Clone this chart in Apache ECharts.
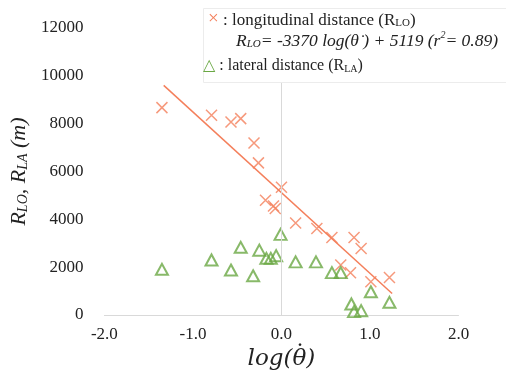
<!DOCTYPE html>
<html>
<head>
<meta charset="utf-8">
<script src="https://cdn.jsdelivr.net/npm/echarts@6/dist/echarts.min.js"></script>
<style>
  html, body { margin: 0; padding: 0; background: #fff; }
  #chart { width: 506px; height: 379px; }
</style>
</head>
<body>
<div id="chart"></div>
<script>
// log(theta dot) vs longitudinal distance R_LO
const loX = [-1.35, -0.79, -0.57, -0.46, -0.31, -0.26, -0.18, -0.09, -0.07, 0.00, 0.16, 0.40, 0.57, 0.82, 0.90, 0.67, 0.78, 1.01, 1.22];
const loY = [8670, 8350, 8070, 8210, 7190, 6360, 4800, 4560, 4450, 5340, 3850, 3620, 3240, 3240, 2780, 2090, 1770, 1390, 1570];

// log(theta dot) vs lateral distance R_LA
const laX = [-1.35, -0.79, -0.57, -0.46, -0.32, -0.25, -0.17, -0.12, -0.06, -0.01, 0.16, 0.39, 0.57, 0.67, 1.01, 1.22, 0.79, 0.82, 0.90];
const laY = [1910, 2300, 1880, 2830, 1640, 2710, 2370, 2370, 2480, 3370, 2220, 2220, 1770, 1770, 970, 530, 460, 140, 180];

// fitted line end points, as drawn
const fitX = [-1.33, 1.25];
const fitY = [9600, 900];

const xTicks = [-2, -1, 0, 1, 2];
const yTicks = [0, 2000, 4000, 6000, 8000, 10000, 12000];

const colors = {
  orange: "#f47f5b",
  green: "#6aa844",
  ink: "#222222",
  axis: "#d9d9d9"
};

const serif = "'Liberation Serif', 'DejaVu Serif', serif";
const mathSerif = "'DejaVu Serif', serif";
const crossPath = "path://M0,0 L10,10 M10,0 L0,10";

const pairs = (xs, ys) => xs.map((x, i) => [x, ys[i]]);

const chart = echarts.init(document.getElementById("chart"), null, { renderer: "canvas" });

chart.setOption({
  animation: false,
  grid: { left: 103.5, right: 47.5, top: 28, bottom: 64 },
  xAxis: {
    type: "value",
    min: xTicks[0],
    max: xTicks[xTicks.length - 1],
    interval: 1,
    axisLine: { onZero: false, lineStyle: { color: colors.axis, width: 1 } },
    axisTick: { show: false },
    splitLine: { show: false },
    axisLabel: { color: colors.ink, fontFamily: serif, fontSize: 17, margin: 11, formatter: v => v.toFixed(1) },
    name: "log(θ)",
    nameLocation: "middle",
    nameGap: 31,
    nameTextStyle: { color: colors.ink, fontFamily: mathSerif, fontStyle: "italic", fontSize: 23 }
  },
  yAxis: {
    type: "value",
    min: yTicks[0],
    max: yTicks[yTicks.length - 1],
    interval: 2000,
    axisLine: { show: false },
    axisTick: { show: false },
    splitLine: { show: false },
    axisLabel: { color: colors.ink, fontFamily: serif, fontSize: 17, margin: 21, formatter: v => String(v) },
    name: "{r|R}{s|LO}{r|, R}{s|LA}{r| (m)}",
    nameLocation: "middle",
    nameRotate: 90,
    nameGap: 62,
    nameTextStyle: {
      rich: {
        r: { fontFamily: serif, fontStyle: "italic", fontSize: 22, color: colors.ink, lineHeight: 24, verticalAlign: "bottom" },
        s: { fontFamily: serif, fontStyle: "italic", fontSize: 14, color: colors.ink, lineHeight: 12, verticalAlign: "bottom" }
      }
    }
  },
  series: [
    {
      name: "fit",
      type: "line",
      data: pairs(fitX, fitY),
      showSymbol: false,
      symbol: "none",
      lineStyle: { color: colors.orange, width: 1.5 },
      silent: true,
      z: 1,
      markLine: {
        silent: true,
        symbol: "none",
        label: { show: false },
        lineStyle: { color: colors.axis, type: "solid", width: 1 },
        data: [{ xAxis: 0 }]
      }
    },
    {
      name: "longitudinal distance",
      type: "scatter",
      data: pairs(loX, loY),
      symbol: crossPath,
      symbolSize: 11,
      itemStyle: { color: "rgba(0,0,0,0)", borderColor: colors.orange, borderWidth: 1.5 },
      z: 3
    },
    {
      name: "lateral distance",
      type: "scatter",
      data: pairs(laX, laY),
      symbol: "triangle",
      symbolSize: [12, 11],
      itemStyle: { color: "rgba(0,0,0,0)", borderColor: colors.green, borderWidth: 2 },
      z: 3
    }
  ],
  graphic: [
    // dot over the theta in the x axis name
    {
      type: "text",
      left: 294,
      top: 344,
      z: 11,
      style: { text: "˙", fontSize: 24, fontFamily: mathSerif, fill: colors.ink }
    },
    {
      type: "rect",
      left: 203,
      top: 8,
      shape: { width: 310, height: 74 },
      style: { fill: "#ffffff", stroke: "#ececec", lineWidth: 1 },
      z: 10
    },
    {
      type: "text",
      left: 208,
      top: 10,
      z: 11,
      style: {
        text: "{x|×}{t| : longitudinal distance (R}{s|LO}{t|)}",
        rich: {
          x: { fontSize: 19, fill: colors.orange, fontFamily: serif, lineHeight: 19, verticalAlign: "bottom" },
          t: { fontSize: 17, fill: colors.ink, fontFamily: serif, lineHeight: 19, verticalAlign: "bottom" },
          s: { fontSize: 11, fill: colors.ink, fontFamily: serif, lineHeight: 10, verticalAlign: "bottom" }
        }
      }
    },
    {
      type: "text",
      left: 236,
      top: 30,
      z: 11,
      style: {
        text: "{t|R}{s|LO}{t|= -3370 log(θ̇ ) + 5119 (r}{p|2}{t|= 0.89)}",
        rich: {
          t: { fontSize: 17.5, fill: colors.ink, fontFamily: serif, fontStyle: "italic", lineHeight: 20, verticalAlign: "bottom" },
          s: { fontSize: 11, fill: colors.ink, fontFamily: serif, fontStyle: "italic", lineHeight: 10, verticalAlign: "bottom" },
          p: { fontSize: 10, fill: colors.ink, fontFamily: serif, fontStyle: "italic", lineHeight: 20, verticalAlign: "top" }
        }
      }
    },
    {
      type: "text",
      left: 203,
      top: 58,
      z: 11,
      style: {
        text: "{x|△}{t| : lateral distance (R}{s|LA}{t|)}",
        rich: {
          x: { fontSize: 16, fill: colors.green, fontFamily: "'DejaVu Sans', sans-serif", lineHeight: 19, verticalAlign: "bottom" },
          t: { fontSize: 16, fill: colors.ink, fontFamily: serif, lineHeight: 19, verticalAlign: "bottom" },
          s: { fontSize: 10, fill: colors.ink, fontFamily: serif, lineHeight: 10, verticalAlign: "bottom" }
        }
      }
    }
  ]
});
</script>
</body>
</html>
